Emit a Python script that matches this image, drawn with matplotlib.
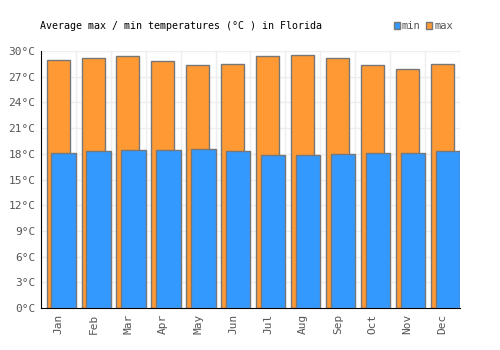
import matplotlib
matplotlib.use("Agg")
import matplotlib.pyplot as plt
import numpy as np

months = ["Jan", "Feb", "Mar", "Apr", "May", "Jun",
          "Jul", "Aug", "Sep", "Oct", "Nov", "Dec"]
t_max = [29.0, 29.25, 29.4, 28.8, 28.4, 28.55, 29.4, 29.6, 29.25, 28.4, 27.95, 28.55]
t_min = [18.1, 18.3, 18.4, 18.4, 18.55, 18.3, 17.85, 17.85, 17.95, 18.15, 18.15, 18.3]

plt.rcParams['font.family'] = ['DejaVu Sans Mono']

fig = plt.figure(figsize=(5, 3.5), dpi=100)
ax = fig.add_axes([0.082, 0.12, 0.838, 0.734])

x = np.arange(len(months))
ax.bar(x - 0.01, t_max, width=0.66, color="#FF9933", edgecolor="#777777",
       linewidth=1.0, label="max", zorder=2)
ax.bar(x + 0.15, t_min, width=0.70, color="#3399FF", edgecolor="#777777",
       linewidth=1.0, label="min", zorder=3)

ax.set_xlim(-0.5, 11.5)
ax.set_ylim(0, 30)
ax.set_yticks(range(0, 31, 3))
ax.set_yticklabels([f"{v}°C" for v in range(0, 31, 3)])
ax.set_xticks(x)
ax.set_xticklabels(months, rotation=90)
ax.tick_params(length=0, labelsize=8, colors="#555555", pad=4)

# grid: horizontal at ticks, vertical at month boundaries
for v in range(3, 31, 3):
    ax.axhline(v, color="#EEEEEE", linewidth=1, zorder=0)
for b in np.arange(0.5, 12, 1):
    ax.axvline(b, color="#EEEEEE", linewidth=1, zorder=0)

for s in ["top", "right"]:
    ax.spines[s].set_visible(False)
ax.spines["left"].set_color("black")
ax.spines["bottom"].set_color("black")

fig.text(0.08, 0.925, "Average max / min temperatures (°C ) in Florida",
         fontsize=7.2, color="black", va="center")

h, l = ax.get_legend_handles_labels()
leg = fig.legend(h[::-1], l[::-1], ncol=2, frameon=False, loc="center right",
                 bbox_to_anchor=(0.906, 0.925), fontsize=7.5, handlelength=0.6,
                 handleheight=0.6, handletextpad=0.2, columnspacing=0.5,
                 borderpad=0, borderaxespad=0)
for t in leg.get_texts():
    t.set_color("#555555")

fig.savefig("out.png", dpi=100)
